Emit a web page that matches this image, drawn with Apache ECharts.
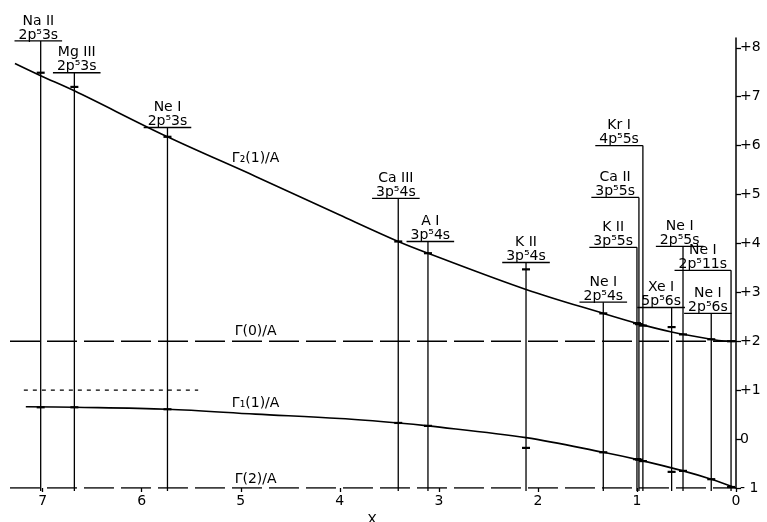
<!DOCTYPE html>
<html>
<head>
<meta charset="utf-8">
<script src="https://cdn.jsdelivr.net/npm/echarts@6/dist/echarts.min.js"></script>
<style>
html,body{margin:0;padding:0;background:#fff;}
#chart{width:767px;height:522px;}
</style>
</head>
<body>
<div id="chart"></div>
<script>
// ---- data ----
const ions    = ['Na II','Mg III','Ne I','Ca III','A I','K II','Ne I','K II','Ca II','Kr I','Xe I','Ne I','Ne I','Ne I'];
const configs = ['2p⁵3s','2p⁵3s','2p⁵3s','3p⁵4s','3p⁵4s','3p⁵4s','2p⁵4s','3p⁵5s','3p⁵5s','4p⁵5s','5p⁵6s','2p⁵5s','2p⁵6s','2p⁵11s'];
const lineX    = [7.02, 6.68, 5.74, 3.41, 3.11, 2.12, 1.34, 1.00, 0.98, 0.94, 0.65, 0.535, 0.25, 0.05];
const barTop   = [8.14, 7.49, 6.37, 4.92, 4.04, 3.61, 2.80, 3.92, 4.94, 6.00, 2.69, 3.94, 2.57, 3.45];
const upperExp = [7.49, 7.20, 6.18, 4.04, 3.80, 3.47, 2.57, 2.37, 2.35, 2.32, 2.29, 2.14, 2.04, 2.00];
const lowerExp = [0.65, 0.65, 0.61, 0.33, 0.27, -0.18, -0.27, -0.41, -0.42, -0.45, -0.67, -0.65, -0.82, -0.98];

const upperCurveX = [7.28, 7.02, 6.68, 5.74, 4.85, 4.00, 3.41, 3.11, 2.12, 1.34, 0.97, 0.65, 0.25, 0.12, 0];
const upperCurveY = [7.68, 7.43, 7.12, 6.18, 5.37, 4.58, 4.04, 3.80, 3.06, 2.57, 2.35, 2.19, 2.04, 2.005, 2.0];
const lowerCurveX = [7.17, 6.68, 5.74, 4.85, 4.00, 3.41, 3.11, 2.12, 1.34, 0.97, 0.535, 0.25, 0];
const lowerCurveY = [0.66, 0.65, 0.61, 0.51, 0.42, 0.33, 0.27, 0.03, -0.27, -0.43, -0.65, -0.82, -1.0];

const gamma0Level = 2;
const gamma2Level = -1;
const levelStartX = 7.33;
const dottedX = [7.19, 5.43];
const dottedLevel = 1;
const curveLabelX = 4.85;
const curveNames = ['Γ₂(1)/A', 'Γ(0)/A', 'Γ₁(1)/A', 'Γ(2)/A'];

const xTicks = [0, 1, 2, 3, 4, 5, 6, 7];
const yTicks = [-1, 0, 1, 2, 3, 4, 5, 6, 7, 8];
const yTickLabels = ['- 1', '0', '+1', '+2', '+3', '+4', '+5', '+6', '+7', '+8'];

// layout: fraction of the label bar lying left of its vertical line
const labelAnchor = [0.55, 0.45, 0.5, 0.55, 0.45, 0.5, 0.5, 1, 1, 1, 0.72, 0.57, 0.57, 1];

// ---- helpers ----
const FONT_FAMILY = '"DejaVu Sans", sans-serif';
const FONT_SIZE = 14;
const ctx = document.createElement('canvas').getContext('2d');
ctx.font = FONT_SIZE + 'px ' + FONT_FAMILY;
function measure(t){ return ctx.measureText(t).width; }

const zip = (xs, ys) => xs.map((x, i) => [x, ys[i]]);

function valueAt(xs, ys, x){ return ys[xs.indexOf(x)]; }

function renderItem(params, api){
  const i = params.dataIndex;
  const x = api.value(0);
  const top = api.coord([x, api.value(1)]);
  const bottom = api.coord([x, gamma2Level]);
  const up = api.coord([x, api.value(2)]);
  const lo = api.coord([x, api.value(3)]);
  const w = Math.max(measure(ions[i]), measure(configs[i])) + 8;
  const a = labelAnchor[i];
  const x0 = top[0] - a * w;
  const x1 = x0 + w;
  const cx = (x0 + x1) / 2;
  const stroke = {stroke:'#000', lineWidth:1.3};
  const mk = {stroke:'#000', lineWidth:2.2};
  return {
    type:'group',
    children:[
      {type:'line', shape:{x1:top[0], y1:top[1], x2:bottom[0], y2:bottom[1]+3}, style:stroke},
      {type:'line', shape:{x1:x0, y1:top[1], x2:x1, y2:top[1]}, style:stroke},
      {type:'line', shape:{x1:up[0]-4, y1:up[1], x2:up[0]+4, y2:up[1]}, style:mk},
      {type:'line', shape:{x1:lo[0]-4, y1:lo[1], x2:lo[0]+4, y2:lo[1]}, style:mk},
      {type:'text', style:{text:configs[i], x:cx, y:top[1]+1, align:'center', verticalAlign:'bottom',
        fontSize:FONT_SIZE, fontFamily:FONT_FAMILY, fill:'#000'}},
      {type:'text', style:{text:ions[i], x:cx, y:top[1]-13, align:'center', verticalAlign:'bottom',
        fontSize:FONT_SIZE, fontFamily:FONT_FAMILY, fill:'#000'}}
    ]
  };
}

function curveLabel(name, x, y, dist){
  return {
    symbol:'rect', symbolSize:1, itemStyle:{color:'rgba(0,0,0,0)'},
    label:{show:true, position:'top', distance:dist, formatter:name, color:'#000',
      fontSize:FONT_SIZE, fontFamily:FONT_FAMILY},
    data:[{coord:[x, y]}]
  };
}

const blackLine = (w, type) => ({color:'#000', width:w, type:type || 'solid'});

const option = {
  animation:false,
  backgroundColor:'#fff',
  grid:{left:8, right:31, top:38, bottom:34, containLabel:false, outerBoundsMode:'none'},
  xAxis:{
    type:'value', min:0, max:7.35, interval:1, inverse:true,
    name:'X', nameLocation:'middle', nameGap:21,
    nameTextStyle:{color:'#000', fontSize:FONT_SIZE, fontFamily:FONT_FAMILY},
    axisLine:{show:false, onZero:false},
    axisTick:{show:true, length:4, customValues:xTicks, lineStyle:{color:'#000', width:1.3}},
    splitLine:{show:false},
    axisLabel:{color:'#000', fontSize:FONT_SIZE, fontFamily:FONT_FAMILY, margin:6,
      customValues:xTicks, formatter:v => String(v)}
  },
  yAxis:{
    type:'value', position:'right', min:-1, max:8.2, interval:1,
    axisLine:{show:true, onZero:false, lineStyle:{color:'#000', width:1.5}},
    axisTick:{show:true, inside:false, length:5, customValues:yTicks, lineStyle:{color:'#000', width:1.3}},
    splitLine:{show:false},
    axisLabel:{color:'#000', fontSize:FONT_SIZE, fontFamily:FONT_FAMILY, margin:4,
      customValues:yTicks, formatter:v => yTickLabels[yTicks.indexOf(v)] || ''}
  },
  series:[
    {type:'line', name:curveNames[0], data:zip(upperCurveX, upperCurveY), smooth:0.35, symbol:'none',
      lineStyle:blackLine(1.6), z:3,
      markPoint:curveLabel(curveNames[0], curveLabelX, valueAt(upperCurveX, upperCurveY, curveLabelX), 11)},
    {type:'line', name:curveNames[1], data:[[levelStartX, gamma0Level], [0, gamma0Level]], symbol:'none',
      lineStyle:blackLine(1.4, [30, 7]), z:3,
      markPoint:curveLabel(curveNames[1], curveLabelX, gamma0Level, 2)},
    {type:'line', name:curveNames[2], data:zip(lowerCurveX, lowerCurveY), smooth:0.35, symbol:'none',
      lineStyle:blackLine(1.6), z:3,
      markPoint:curveLabel(curveNames[2], curveLabelX, valueAt(lowerCurveX, lowerCurveY, curveLabelX), 3)},
    {type:'line', name:curveNames[3], data:[[levelStartX, gamma2Level], [0, gamma2Level]], symbol:'none',
      lineStyle:blackLine(1.4, [30, 7]), z:3,
      markPoint:curveLabel(curveNames[3], curveLabelX, gamma2Level, 1)},
    {type:'line', name:'dotted', data:[[dottedX[0], dottedLevel], [dottedX[1], dottedLevel]], symbol:'none',
      lineStyle:blackLine(1.2, [4, 5]), z:3},
    {type:'custom', name:'levels', clip:false, renderItem:renderItem, z:4,
      encode:{x:0, y:1},
      data:lineX.map((x, i) => [x, barTop[i], upperExp[i], lowerExp[i]])}
  ]
};

const chart = echarts.init(document.getElementById('chart'), null, {renderer:'canvas'});
chart.setOption(option);
</script>
</body>
</html>
